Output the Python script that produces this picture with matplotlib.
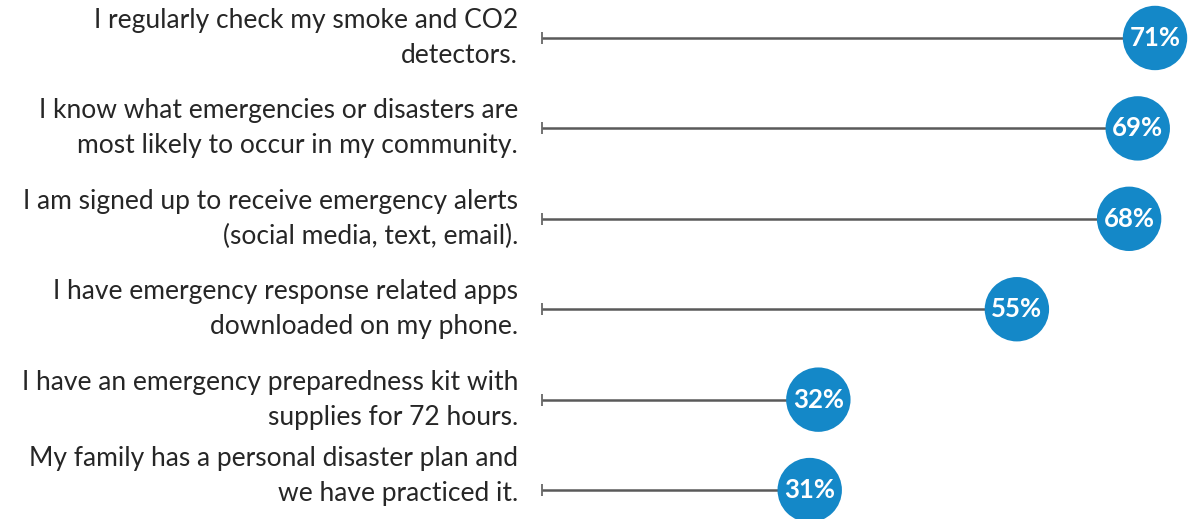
import matplotlib
matplotlib.use("Agg")
import matplotlib.pyplot as plt

# survey statements and share of respondents agreeing
statements = [
    "I regularly check my smoke and CO2\ndetectors.",
    "I know what emergencies or disasters are\nmost likely to occur in my community.",
    "I am signed up to receive emergency alerts\n(social media, text, email).",
    "I have emergency response related apps\ndownloaded on my phone.",
    "I have an emergency preparedness kit with\nsupplies for 72 hours.",
    "My family has a personal disaster plan and\nwe have practiced it.",
]
percent = [71, 69, 68, 55, 32, 31]

blue = "#1488C8"
grey = "#5a5a5a"

fig = plt.figure(figsize=(11.93, 5.19), dpi=100)
ax = fig.add_axes([0, 0, 1, 1])
ax.set_xlim(-62.8, 75.4)
ax.set_ylim(5.32, -0.42)
ax.axis("off")

rows = list(range(len(percent)))
ax.hlines(rows, 0, percent, color=grey, lw=1.8, zorder=1)
ax.plot([0] * len(rows), rows, ls="none", marker="|", ms=8, mew=1.2, color=grey, zorder=1)
ax.scatter(percent, rows, s=2150, color=blue, edgecolors="none", zorder=2)

for i, (txt, v) in enumerate(zip(statements, percent)):
    ax.text(v, i, f"{v}%", ha="center", va="center", color="white",
            fontsize=18.5, fontweight="bold", family="Lato", zorder=3)
    # keep the bottom label inside the figure
    dy = 10 if i == len(rows) - 1 else 0
    ax.annotate(txt, (-2.8, i), xytext=(0, dy), textcoords="offset points",
                ha="right", va="center", fontsize=19, family="Lato",
                linespacing=1.5, color="#262626", multialignment="right")

fig.savefig("out.png", dpi=100)
